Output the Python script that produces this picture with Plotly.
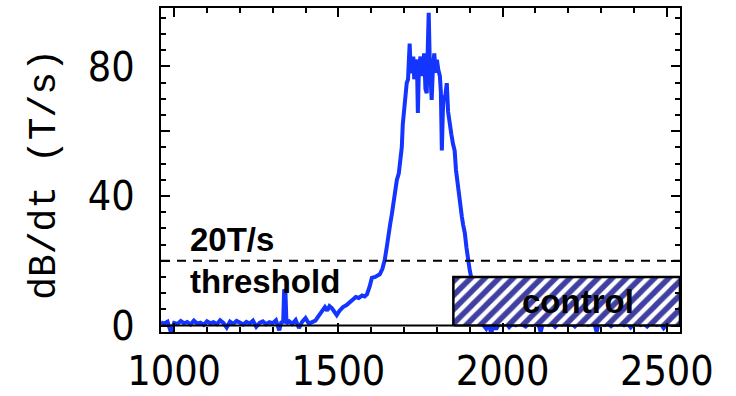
import plotly.graph_objects as go

# ---- data ----
time_x = [960, 970, 980, 990, 1000, 1010, 1020, 1030, 1040, 1050, 1060, 1070, 1080, 1090,
          1100, 1110, 1120, 1130, 1140, 1150, 1160, 1170, 1180, 1190, 1200, 1210, 1220,
          1230, 1240, 1250, 1260, 1270, 1280, 1290, 1300, 1310, 1320, 1326, 1332, 1335,
          1339, 1342, 1350, 1360, 1370, 1380, 1390, 1400, 1410, 1420,
          1430, 1440, 1450, 1459, 1466, 1473, 1480, 1488, 1495, 1503, 1514, 1525, 1535,
          1545, 1553, 1562, 1572, 1580, 1587, 1595, 1602, 1612, 1620, 1626, 1634, 1641,
          1647, 1652, 1658, 1663, 1668, 1672, 1678, 1684, 1690, 1693, 1696, 1699, 1703,
          1708, 1712, 1717, 1720, 1724, 1728, 1731, 1735, 1739, 1742, 1745, 1750, 1753,
          1757, 1761, 1765, 1769, 1772, 1775, 1778, 1781, 1784, 1788, 1792, 1796, 1800,
          1804, 1809, 1812, 1815, 1818, 1821, 1824, 1827, 1830, 1834, 1839, 1844, 1849,
          1854, 1858, 1863, 1868, 1872, 1876, 1880, 1885, 1890, 1894, 1900, 1906, 1912,
          1918, 1925, 1932,
          1940, 1950, 1958, 1965, 1972, 1980, 1990, 2000, 2010, 2020, 2030, 2040, 2050,
          2060, 2070, 2080, 2090, 2100, 2110, 2116, 2122, 2130, 2140, 2150, 2160, 2170,
          2180, 2190, 2200, 2210, 2220, 2230, 2240, 2250, 2260, 2270, 2280, 2286, 2292,
          2300, 2310, 2320, 2330, 2340, 2350, 2360, 2370, 2380, 2390, 2400, 2410, 2420,
          2430, 2440, 2450, 2460, 2470, 2480, 2490, 2500, 2510, 2520, 2530, 2540]
dbdt = [1.0, 0.6, 1.2, -2.0, 0.8, 0.5, 1.4, 0.7, 1.1, 0.3, 1.5, 0.6, 0.9, 0.2,
        1.3, 0.7, 1.0, 0.4, 1.6, 0.8, -0.6, 1.2, 0.5, 1.4, 0.9, 0.3, 1.1,
        0.6, 1.5, -0.4, 0.8, 1.3, 0.4, 1.0, 0.7, 1.6, -1.5, 0.9, 1.2, 11.2,
        10.0, 0.6, 1.3, 0.5, 1.7, -0.8, 1.2, 2.3, 0.6, 0.9,
        1.5, 3.0, 4.2, 5.7, 4.6, 6.0, 5.4, 4.4, 3.2, 4.5, 5.7, 6.3, 7.2,
        8.0, 8.8, 8.5, 9.3, 9.0, 9.6, 12.0, 14.7, 15.0, 15.3, 15.8, 17.5, 20.2,
        24.0, 28.5, 31.5, 34.5, 38.5, 41.8, 44.9, 47.0, 51.0, 55.0, 62.0, 65.6, 70.0,
        74.8, 76.0, 87.0, 79.0, 78.0, 83.0, 76.0, 81.0, 82.0, 65.6, 79.0, 83.0, 77.0,
        80.0, 84.0, 73.0, 71.7, 85.0, 96.5, 82.0, 75.0, 69.6, 80.0, 84.0, 78.0, 82.0,
        79.0, 77.0, 72.0, 54.0, 66.0, 71.0, 69.6, 72.0, 74.8, 66.0, 61.0, 59.0, 56.0,
        54.0, 48.0, 44.0, 38.0, 35.5, 33.5, 31.0, 28.5, 24.0, 20.2, 17.0, 14.0, 10.0,
        6.0, 2.0, 0.5,
        0.3, -1.0, 0.8, -2.5, 0.4, -1.2, 0.7, 0.2, 0.9, -0.5, 0.6, 0.1, 0.8,
        0.3, -0.3, 0.6, 0.2, 0.8, 0.1, -2.0, 0.5, 0.9, 0.2, 0.7, -0.4, 0.6,
        0.3, 0.9, 0.1, 0.6, -0.3, 0.8, 0.4, 0.9, 0.2, 0.7, 0.3, -2.0, 0.5,
        0.8, 0.2, 0.7, -0.2, 0.6, 0.3, 0.9, 0.1, 0.7, -0.6, 0.5, 0.8, 0.2,
        0.7, -0.3, 0.6, 0.9, 0.2, 0.7, -0.8, 0.5, 0.8, 0.3, 0.6, 0.4]

threshold = 20
control_start = 1850
control_level = 15
x_range = [960, 2540]
y_range = [-2, 98]
x_ticks = [1000, 1500, 2000, 2500]
y_ticks = [0, 20, 40, 60, 80]
y_ticktext = ["0", "", "40", "", "80"]

fig = go.Figure()

# blue dB/dt trace
fig.add_trace(go.Scatter(x=time_x, y=dbdt, mode="lines",
                         line=dict(color="#1434ff", width=4), showlegend=False,
                         hoverinfo="skip"))

# threshold dashed line
fig.add_trace(go.Scatter(x=x_range, y=[threshold, threshold], mode="lines",
                         line=dict(color="black", width=2, dash="9px,7px"),
                         showlegend=False, hoverinfo="skip"))

# black baseline up to control box
fig.add_trace(go.Scatter(x=[x_range[0], control_start], y=[0, 0], mode="lines",
                         line=dict(color="black", width=2), showlegend=False,
                         hoverinfo="skip"))

# hatched control box
fig.add_trace(go.Scatter(
    x=[control_start, x_range[1], x_range[1], control_start, control_start],
    y=[0, 0, control_level, control_level, 0],
    mode="lines", fill="toself",
    fillcolor="white",
    fillpattern=dict(shape="/", fgcolor="#4040a2", bgcolor="white", fgopacity=1,
                     fillmode="replace", size=10, solidity=0.55),
    line=dict(color="black", width=2.5), showlegend=False, hoverinfo="skip"))

tick_font = dict(family="Liberation Sans Narrow, DejaVu Sans Condensed, sans-serif",
                 size=41, color="black")

fig.update_xaxes(range=x_range, tickvals=x_ticks, ticktext=[str(v) for v in x_ticks],
                 ticks="inside", ticklen=9, tickwidth=2, tickcolor="black",
                 minor=dict(dtick=100, ticks="inside", ticklen=5, tickwidth=2, tickcolor="black"),
                 showline=True, linewidth=2, linecolor="black", mirror="allticks",
                 showgrid=False, zeroline=False, tickfont=tick_font, ticklabelstandoff=2,
                 automargin=False)
fig.update_yaxes(range=y_range, tickvals=y_ticks, ticktext=y_ticktext,
                 ticks="inside", ticklen=9, tickwidth=2, tickcolor="black",
                 minor=dict(dtick=5, ticks="inside", ticklen=5, tickwidth=2, tickcolor="black"),
                 showline=True, linewidth=2, linecolor="black", mirror="allticks",
                 showgrid=False, zeroline=False, tickfont=tick_font, ticklabelstandoff=16,
                 automargin=False)

bold = dict(family="Liberation Sans, Arial, sans-serif", size=33, color="black")
fig.add_annotation(x=1042, y=26.5, text="<b>20T/s</b>", showarrow=False,
                   xanchor="left", yanchor="middle", font=bold)
fig.add_annotation(x=1042, y=13.5, text="<b>threshold</b>", showarrow=False,
                   xanchor="left", yanchor="middle", font=bold)
fig.add_annotation(x=2228, y=7.3, text="<b>control</b>", showarrow=False,
                   xanchor="center", yanchor="middle", font=bold)

# y axis title
fig.add_annotation(xref="paper", yref="paper", x=-0.2235, y=0.485,
                   text="dB/dt (T/s)", textangle=-90, showarrow=False,
                   xanchor="center", yanchor="middle",
                   font=dict(family="Liberation Mono, DejaVu Sans Mono, monospace",
                             size=38, color="black"))

fig.update_layout(width=736, height=396, paper_bgcolor="white", plot_bgcolor="white",
                  margin=dict(l=161, r=56, t=8, b=64), showlegend=False)

fig.write_html("out.html")
